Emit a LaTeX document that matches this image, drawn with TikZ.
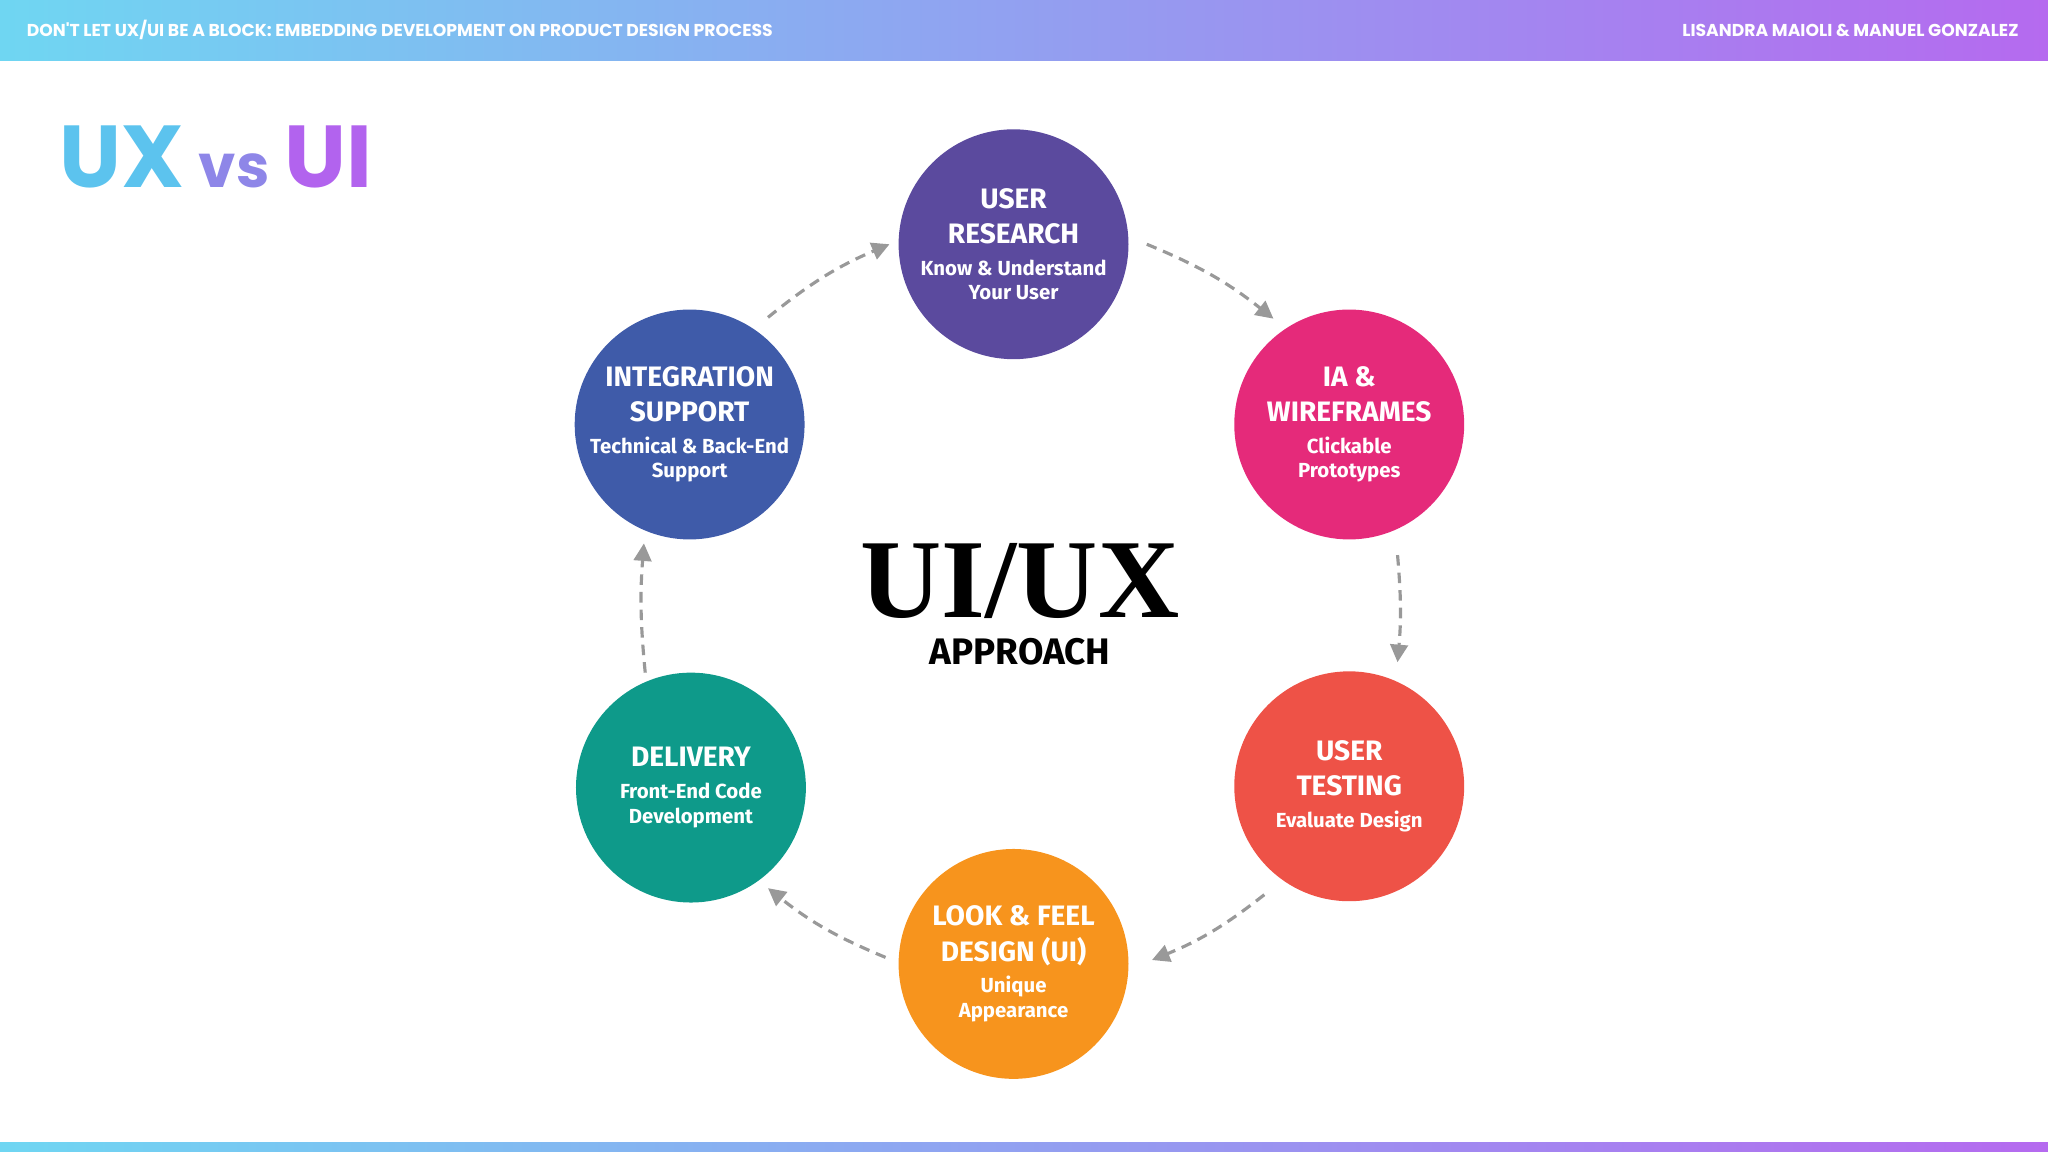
\documentclass[tikz,border=0pt]{standalone}
\usepackage{fontspec}
\setmainfont{Fira Sans}
\newfontfamily\pop{Poppins}
\newfontfamily\ser{Liberation Serif}
\usetikzlibrary{arrows.meta}
\definecolor{cA}{HTML}{6FD6F2}\definecolor{cB}{HTML}{B56AEF}
\definecolor{cRes}{HTML}{5B4A9E}\definecolor{cIA}{HTML}{E52A7A}
\definecolor{cTest}{HTML}{EE5247}\definecolor{cLook}{HTML}{F7941D}
\definecolor{cDel}{HTML}{0E9A8A}\definecolor{cInt}{HTML}{3F5BA9}
\newcommand\sbt{\fontsize{5.8}{7.3}\selectfont\bfseries}
\begin{document}
\begin{tikzpicture}[x=0.013061cm,y=-0.013061cm,
 stage/.style={circle,minimum size=2.299cm,inner sep=0pt,text=white,align=center,font=\bfseries\fontsize{8}{10}\selectfont},
 flow/.style={gray!80,densely dashed,line width=0.9pt,-{Triangle[length=5pt,width=5pt]}}]
\useasboundingbox (0,0) rectangle (1568,882);
\fill[left color=cA,right color=cB] (0,0) rectangle (1568,46);
\fill[left color=cA,right color=cB] (0,875) rectangle (1568,882);
\node[anchor=west,text=white,font=\pop\bfseries\fontsize{4.9}{6}\selectfont,inner sep=0pt] (hl) at (20,23) {DON'T LET UX/UI BE A BLOCK: EMBEDDING DEVELOPMENT ON PRODUCT DESIGN PROCESS};
\node[anchor=east,text=white,font=\pop\bfseries\fontsize{4.9}{6}\selectfont,inner sep=0pt] (hr) at (1546,23) {LISANDRA MAIOLI \& MANUEL GONZALEZ};
\node[anchor=west,font=\pop\bfseries\fontsize{25}{28}\selectfont,inner sep=0pt] (ttl) at (45,120) {\textcolor[HTML]{5CC3EE}{UX}\,\textcolor[HTML]{8E86E8}{\fontsize{17}{20}\selectfont vs}\,\textcolor[HTML]{B263EE}{UI}};
\node[font=\ser\bfseries\fontsize{32}{34}\selectfont,inner sep=0pt] (big) at (781,445) {UI/UX};
\node[font=\bfseries\fontsize{10.5}{12}\selectfont,inner sep=0pt] (app) at (781,499) {APPROACH};
\node[stage,fill=cRes] (res) at (776,187) {USER\\RESEARCH\\[-1pt]{\sbt Know \& Understand}\\[-3pt]{\sbt Your User}};
\node[stage,fill=cIA] (ia) at (1033,325) {IA \&\\WIREFRAMES\\[-1pt]{\sbt Clickable}\\[-3pt]{\sbt Prototypes}};
\node[stage,fill=cTest] (test) at (1033,602) {USER\\TESTING\\[-1pt]{\sbt Evaluate Design}};
\node[stage,fill=cLook] (look) at (776,738) {LOOK \& FEEL\\DESIGN (UI)\\[-1pt]{\sbt Unique}\\[-3pt]{\sbt Appearance}};
\node[stage,fill=cDel] (del) at (529,603) {DELIVERY\\[-1pt]{\sbt Front-End Code}\\[-3pt]{\sbt Development}};
\node[stage,fill=cInt] (int) at (528,325) {INTEGRATION\\SUPPORT\\[-1pt]{\sbt Technical \& Back-End}\\[-3pt]{\sbt Support}};
\coordinate (a1) at (878,187);\coordinate (b1) at (975,244);
\coordinate (a2) at (1070,425);\coordinate (b2) at (1070,507);
\coordinate (a3) at (968,685);\coordinate (b3) at (882,735);
\coordinate (a4) at (678,733);\coordinate (b4) at (588,680);
\coordinate (a5) at (494,515);\coordinate (b5) at (493,416);
\coordinate (a6) at (588,243);\coordinate (b6) at (681,187);
\draw[flow] (a1) to[bend left=8] (b1);
\draw[flow] (a2) to[bend left=5] (b2);
\draw[flow] (a3) to[bend left=8] (b3);
\draw[flow] (a4) to[bend left=8] (b4);
\draw[flow] (a5) to[bend left=5] (b5);
\draw[flow] (a6) to[bend left=8] (b6);
\end{tikzpicture}
\end{document}
